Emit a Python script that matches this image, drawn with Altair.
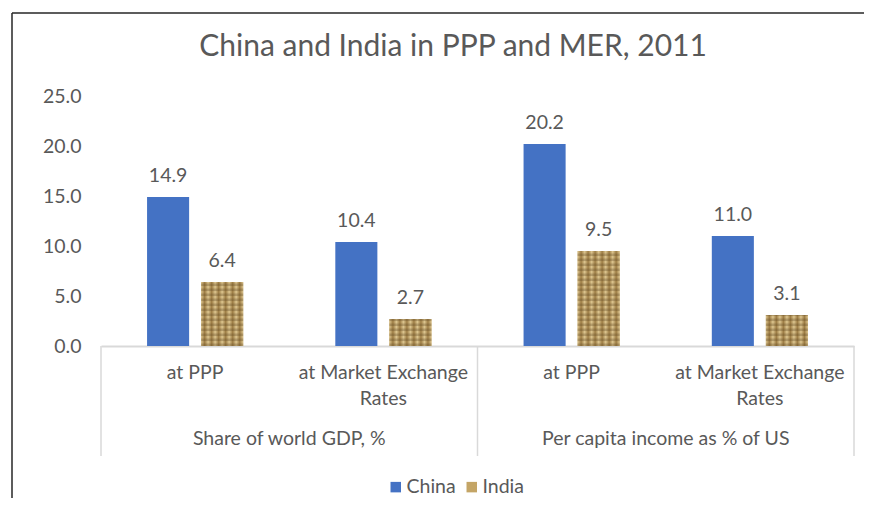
import altair as alt
import pandas as pd

TITLE = "China and India in PPP and MER, 2011"
groups = ["Share of world GDP, %", "Share of world GDP, %",
          "Per capita income as % of US", "Per capita income as % of US"]
measures = ["at PPP", "at Market Exchange Rates", "at PPP", "at Market Exchange Rates"]
countries = ["China", "India"]
china = [14.9, 10.4, 20.2, 11.0]
india = [6.4, 2.7, 9.5, 3.1]
y_ticks = [0, 5, 10, 15, 20, 25]
colors = ["#4472C4", "#C4A566"]

keys = [f"{g}|{m}" for g, m in zip(groups, measures)]
rows = []
for k, g, m, c, i in zip(keys, groups, measures, china, india):
    rows.append(dict(key=k, group=g, measure=m, country="China", value=c))
    rows.append(dict(key=k, group=g, measure=m, country="India", value=i))
df = pd.DataFrame(rows)
cats = pd.DataFrame(dict(key=keys, group=groups, measure=measures, idx=list(range(4))))

W, H = 753, 250
FONT = "Lato"
FS = 19.5
GRAY = "#595959"
LINE = "#D9D9D9"

xscale = alt.Scale(domain=keys, paddingInner=0, paddingOuter=0)
xaxis = alt.Axis(labels=False, ticks=False, title=None, domainColor=LINE, domainWidth=2)
yscale = alt.Scale(domain=[0, 25], nice=False)
yaxis = alt.Axis(values=y_ticks, format=".1f", grid=False, domain=False, ticks=False,
                 labelFontSize=FS, labelColor=GRAY, labelFont=FONT, labelPadding=20, title=None)


def X(**kw):
    return alt.X("key:N", sort=keys, scale=xscale, axis=xaxis, **kw)


xoff = alt.XOffset("country:N", sort=countries,
                   scale=alt.Scale(domain=countries, paddingInner=0.222, paddingOuter=0.852))

base = alt.Chart(df)

bars = base.mark_bar().encode(
    x=X(), xOffset=xoff,
    y=alt.Y("value:Q", scale=yscale, axis=yaxis),
    color=alt.Color("country:N", sort=countries,
                    scale=alt.Scale(domain=countries, range=colors),
                    legend=alt.Legend(orient="none", legendX=285, legendY=381,
                                      direction="horizontal", title=None,
                                      symbolType="square", symbolSize=110,
                                      symbolStrokeWidth=0, symbolOpacity=1,
                                      labelFontSize=FS, labelFont=FONT, labelColor=GRAY,
                                      columnPadding=6, labelOffset=1)),
)

weave = alt.LinearGradient(
    gradient="linear", x1=0, x2=1, y1=0, y2=0,
    stops=[alt.GradientStop(offset=o / 12, color=("#DCC58F" if j % 2 == 0 else "#9C7C44"))
           for j, o in enumerate(range(13))],
)
india_tex = base.transform_filter("datum.country == 'India'").mark_bar(color=weave).encode(
    x=X(), xOffset=xoff, y=alt.Y("value:Q", scale=yscale, axis=yaxis),
)
india_rows = base.transform_filter("datum.country == 'India'").transform_calculate(
    s="sequence(0, datum.value, 0.5)"
).transform_flatten(["s"]).transform_calculate(
    s2="min(datum.s + 0.25, datum.value)"
).mark_bar(color="#5E4420", opacity=0.3).encode(
    x=X(), xOffset=xoff,
    y=alt.Y("s:Q", scale=yscale, axis=yaxis), y2="s2:Q",
)

labels = base.mark_text(fontSize=FS, color=GRAY, font=FONT, baseline="middle", dy=-21).encode(
    x=X(), xOffset=xoff, y=alt.Y("value:Q", scale=yscale, axis=yaxis),
    text=alt.Text("value:Q", format=".1f"),
)

cat_labels = alt.Chart(cats).transform_calculate(
    lab="replace(datum.measure, 'Exchange ', 'Exchange\\n')"
).mark_text(lineBreak="\n", fontSize=FS, color=GRAY, font=FONT, baseline="top", lineHeight=26).encode(
    x=X(), y=alt.value(H + 18), text="lab:N",
)

group_labels = alt.Chart(cats).transform_filter("datum.idx % 2 == 1").mark_text(
    fontSize=FS, color=GRAY, font=FONT, baseline="middle").encode(
    x=X(bandPosition=0), y=alt.value(H + 93), text="group:N",
)

dividers = alt.Chart(cats).transform_filter("datum.idx % 2 == 0").mark_rule(
    color=LINE, strokeWidth=1.5).encode(
    x=X(bandPosition=0), y=alt.value(H), y2=alt.value(H + 110),
)
right_div = alt.Chart(cats).transform_filter("datum.idx == 3").mark_rule(
    color=LINE, strokeWidth=1.5).encode(
    x=X(bandPosition=1), y=alt.value(H), y2=alt.value(H + 110),
)

title = alt.Chart(pd.DataFrame({"t": [TITLE]})).mark_text(
    fontSize=30, color=GRAY, font=FONT, baseline="middle").encode(
    text="t:N", x=alt.value(352), y=alt.value(-49),
)

frame_df = pd.DataFrame({"a": [0]})
frame_left = alt.Chart(frame_df).mark_rule(color="#262626", strokeWidth=1.5).encode(
    x=alt.value(-89), y=alt.value(-83), y2=alt.value(H + 170))
frame_top = alt.Chart(frame_df).mark_rule(color="#262626", strokeWidth=1.5).encode(
    x=alt.value(-89), x2=alt.value(W + 20), y=alt.value(-83))

chart = alt.layer(
    bars, india_tex, india_rows, labels, dividers, right_div, cat_labels, group_labels,
    title, frame_left, frame_top,
).properties(
    width=W, height=H,
    autosize=alt.AutoSizeParams(type="none"),
    padding={"left": 93, "top": 88, "right": 10, "bottom": 152},
).configure_view(stroke=None)

chart.save("out.html", embed_options={"renderer": "svg", "actions": False})
